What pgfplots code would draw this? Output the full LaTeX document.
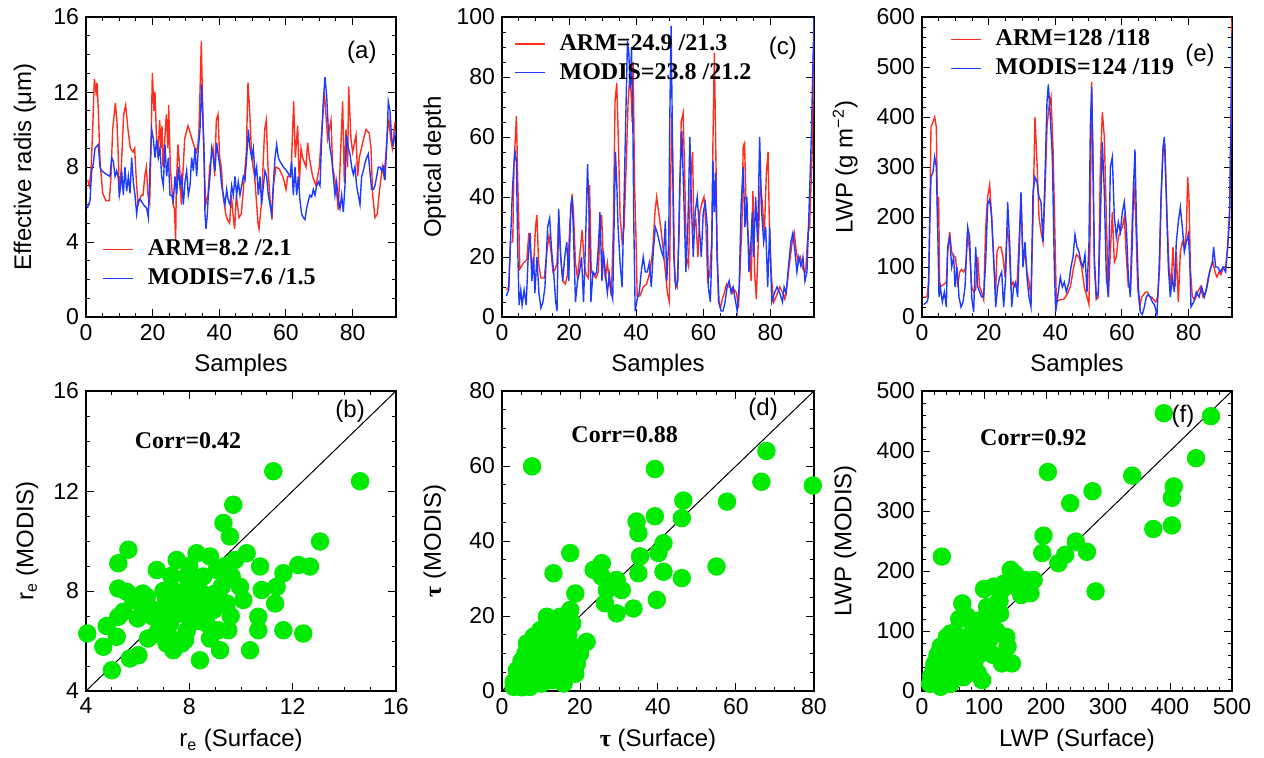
\documentclass[border=0pt]{standalone}
\usepackage{fontspec}
\setmainfont{Liberation Sans}
\newfontfamily\tnr{Liberation Serif}
\usepackage{pgfplots}
\pgfplotsset{compat=1.18}
\definecolor{armc}{RGB}{255,45,30}
\definecolor{modc}{RGB}{30,60,255}
\definecolor{grn}{RGB}{0,235,0}
\tikzset{
 plab/.style={font=\fontsize{12}{13}\selectfont, anchor=center},
 corr/.style={font=\tnr\bfseries\fontsize{12}{13}\selectfont, anchor=west},
}
\pgfplotsset{
 panel/.style={scale only axis, width=155pt, height=150pt, anchor=south west,
   tick align=inside, major tick length=4pt, minor tick length=2pt,
   axis line style={line width=0.6pt}, every tick/.style={line width=0.5pt, black},
   ticklabel style={font=\fontsize{11.5}{12}\selectfont},
   label style={font=\fontsize{12}{13}\selectfont},
   /pgf/number format/assume math mode=true,
   legend cell align=left,
   legend image code/.code={\draw[##1] (0pt,0pt) -- (15pt,0pt);},
   legend style={draw=none, fill=none, inner sep=0pt, row sep=3pt,
     font=\tnr\bfseries\fontsize{12}{13}\selectfont,
     nodes={inner xsep=7pt, inner ysep=1pt}},
 },
 ts/.style={xmin=0, xmax=93, xtick={0,20,...,80}, minor x tick num=3,
   xlabel={Samples}, xlabel style={at={(axis description cs:0.5,-0.16)}, anchor=center}},
 sc/.style={only marks, mark=*, mark size=4.4pt, mark options={fill=grn, draw=grn}},
 ar/.style={color=armc, line width=0.7pt},
 mo/.style={color=modc, line width=0.7pt},
}
\begin{document}
\begin{tikzpicture}
\path[use as bounding box] (0,0) rectangle (632pt,378.5pt);
% ---------------- (a)
\begin{axis}[panel, ts, at={(43pt,220pt)}, ymin=0, ymax=16, ytick={0,4,...,16}, minor y tick num=3,
  ylabel={Effective radis (μm)}, ylabel style={at={(axis description cs:-0.197,0.5)}, anchor=center},
  legend style={at={(rel axis cs:0.052,0.265)}, anchor=north west}]
\addplot[ar] coordinates {(0.5,7.3)(1,7.0)(1.5,7.8)(2,10)(2.5,12.7)(3,12.0)(3.3,12.5)(3.7,11)(4.2,8.3)(5,6.6)(6,6.2)(7,6.2)(7.5,7.5)(8,10)(8.8,11.4)(9.3,10.4)(9.7,8.5)(10,6.4)(10.6,8)(11.3,10.8)(11.9,11.3)(12.6,10)(13.3,9)(14.1,8.8)(14.6,9.0)(15,7.6)(15.6,6)(16.6,6.5)(17.1,6.5)(17.7,7.6)(18.1,8)(18.6,6.5)(19.1,6.1)(19.5,9)(19.9,13)(20.4,11)(20.7,12)(21.1,9.8)(21.6,8.5)(22.1,10.5)(22.5,9)(22.8,10.2)(23.1,8)(24.1,10.8)(24.6,9)(24.8,11.3)(25.3,8)(26.1,6)(26.5,5.8)(26.9,4.1)(27.1,7)(27.6,9.2)(28.1,8)(28.6,6)(29.6,9.5)(30.6,10.2)(31.3,9.8)(32.1,9.3)(33.1,8.8)(33.6,9.2)(33.9,10)(34.6,14.7)(34.9,12)(35.3,9)(35.9,6)(36.6,6.5)(37.1,8)(37.6,8.5)(38.1,9)(38.6,7.5)(39.1,10.5)(39.6,10.8)(40.1,8.5)(40.6,8)(41.1,6.5)(41.9,5.5)(42.4,5.2)(43.1,5)(43.6,6.5)(44.1,5.5)(44.6,4.7)(45.1,6.5)(45.9,5.3)(46.6,5.5)(47.3,7)(48.1,8.8)(48.6,12.5)(49.1,11)(49.6,9)(50.1,8)(50.6,7.5)(51.6,5)(51.9,4.7)(52.6,6)(53.1,8)(53.6,10)(54.1,10.5)(54.6,8)(55.3,6)(55.8,5.2)(56.2,7)(57,8)(58,7.9)(59,7.5)(59.5,7.2)(60,6.8)(60.5,7.5)(61.5,7.5)(62.3,11.5)(62.8,8.5)(63.5,10.2)(64,7)(64.5,9)(65,8.5)(66,8)(66.5,9.3)(67,8.5)(68,7.5)(69,7)(70,8)(71.5,12)(72.5,9.5)(73.5,10.5)(74,8)(75,7)(75.7,5.7)(77,11.5)(77.5,7.2)(78,10)(78.5,8)(78.8,12.3)(79.5,9.5)(80,8.8)(81,9.7)(81.5,7.5)(82,8.5)(83,9.3)(84,10)(85,9.8)(85.5,9)(86,6.5)(86.7,5.3)(87.4,5.5)(87.9,6.5)(88.9,8)(89.4,7.5)(89.9,8.5)(90.4,9.8)(90.9,10.5)(91.4,9.5)(91.9,9)(92.7,10.4)};
\addplot[mo] coordinates {(0.4,5.8)(1.2,6.2)(1.7,7.8)(2.2,8.2)(2.7,9)(3.7,9.2)(4.2,8)(4.7,7.8)(6.2,7.6)(7.2,7.5)(7.7,8.5)(8.2,8.3)(8.7,7.5)(9.2,7.8)(9.7,7.4)(10,6.5)(10.4,7)(10.7,7.8)(11.2,6.5)(11.7,8)(12.2,6.7)(12.7,7.5)(13.2,6.6)(13.7,8.5)(14.2,7.2)(14.7,6.5)(15.2,5.5)(15.7,6.2)(16.2,6.3)(17.2,6.0)(18.2,5.8)(18.7,5.3)(19.2,8)(19.7,10)(20.2,9.5)(20.7,8.5)(21.2,9.5)(21.7,8.5)(22.2,9.0)(22.7,7.5)(23.2,7.0)(23.7,9.2)(24.2,7.5)(24.7,8.5)(25.2,6.5)(25.7,6.5)(26.2,6.2)(26.7,7.5)(27.2,6.5)(27.7,8)(28.2,7)(28.7,7.5)(29.2,6)(29.7,7.2)(30.2,7.8)(30.7,6.5)(31.2,7)(31.7,8.5)(32.2,7.8)(32.7,9)(33.2,7.5)(33.7,9.0)(34.2,10)(34.7,12.4)(35,11)(35.4,9)(35.7,5.5)(36,4.7)(36.4,5.5)(36.7,6.5)(37.2,7.5)(37.7,9)(38.2,8.5)(38.7,7.8)(39.2,9.3)(39.7,8.6)(40.2,8.0)(40.7,7.0)(41.2,6.5)(41.7,6.0)(42.2,6.8)(42.7,6.2)(43.2,6)(43.7,7)(44.2,6.5)(44.7,7.5)(45.2,6.5)(45.7,7.2)(46.2,6.5)(46.7,7)(47.2,7.5)(47.7,7.3)(48.2,8.5)(48.7,10.0)(49.2,9)(49.7,8.5)(50.2,9)(50.7,7.5)(51.2,8.0)(51.7,6.5)(52.2,7.5)(52.7,6.0)(53.2,7.0)(53.7,7.8)(54.2,7.5)(54.7,6.5)(55.2,6.0)(55.7,5.5)(56.2,7)(56.7,8.5)(57.2,9.2)(57.7,8.5)(58.2,8.3)(59.2,8.0)(60.2,7.8)(61.2,7.5)(61.7,8.3)(62.2,6.5)(62.7,8.0)(63.2,6.5)(63.7,7.5)(64.2,6.2)(64.7,5.5)(65.2,5.3)(65.7,5.2)(66.2,5.8)(66.7,6.2)(67.2,6.5)(67.7,6.4)(68.2,6.8)(68.7,6.5)(69.2,7.0)(69.7,7.2)(70.2,7.0)(70.7,9.5)(71.2,11.5)(71.7,12.8)(72.2,11.8)(72.7,10.0)(73.2,9.0)(73.7,8.5)(74.2,7.5)(74.7,6.5)(75.2,7.2)(75.7,6.2)(76.2,5.8)(76.7,6.5)(77.2,5.6)(77.7,7.0)(78.2,9.7)(78.7,9.0)(79.2,8.7)(79.7,8.0)(80.2,7.6)(80.7,8.0)(81.2,7.0)(81.7,6.5)(82.2,6.0)(82.7,7.5)(83.2,7.8)(83.7,8.2)(84.2,8.5)(84.7,8.7)(85.2,7.7)(85.7,6.8)(86.2,6.8)(86.7,7.0)(87.2,7.5)(87.7,8.0)(88.2,8.0)(88.7,7.8)(89.2,8.0)(89.7,7.3)(90.2,9.0)(90.7,11.5)(91.2,11.0)(91.7,9.5)(92.2,9.2)(93,10.0)};
\legend{ARM=8.2 /2.1, MODIS=7.6 /1.5}
\node[plab] at (rel axis cs:0.89,0.883) {(a)};
\end{axis}
% ---------------- (c)
\begin{axis}[panel, ts, width=156pt, at={(251pt,220pt)}, ymin=0, ymax=100, ytick={0,20,...,100}, minor y tick num=3,
  ylabel={Optical depth}, ylabel style={at={(axis description cs:-0.216,0.5)}, anchor=center},
  legend style={at={(rel axis cs:0.038,0.95)}, anchor=north west}]
\addplot[ar] coordinates {(1.3,9)(2.0,10)(2.5,25)(3.2,25)(3.6,52)(4.0,60)(4.3,67)(4.7,45)(5.0,32)(5.3,16)(6.4,18)(7.4,19)(8.0,28)(8.6,20)(9.4,17)(10.0,30)(10.4,34)(10.9,18)(11.6,13)(12.6,13)(13.4,22)(14.0,27)(14.6,22)(15.2,15)(15.9,16)(16.4,18)(16.9,34)(17.5,20)(18.1,12)(18.9,11)(19.5,14)(20.3,32)(20.9,41)(21.3,35)(21.9,18)(22.5,13)(23.3,22)(23.9,29)(24.5,18)(25.1,14)(25.7,13)(26.1,44)(26.6,15)(27.3,14)(28.0,13)(28.7,15)(29.2,28)(29.7,34)(30.2,18)(30.8,13)(31.4,18)(32.0,12)(32.6,7)(33.2,30)(33.7,72)(34.2,78)(34.7,58)(35.2,34)(35.8,25)(36.4,30)(37.0,50)(37.6,72)(38.2,82)(38.8,65)(39.1,85)(39.5,45)(39.9,28)(40.3,7)(41.1,7)(42.1,10)(43.1,11)(44.1,15)(44.9,22)(45.6,35)(46.1,40)(46.7,35)(47.3,30)(48.1,22)(48.7,15)(49.3,8)(49.9,5)(50.2,40)(50.6,68)(51.0,45)(51.5,12)(52.2,10)(52.8,28)(53.4,65)(54.0,68)(54.5,45)(55.0,20)(55.6,17)(56.2,45)(56.8,55)(57.2,30)(57.8,32)(58.4,20)(59.0,35)(59.6,38)(60.2,40)(60.8,30)(61.3,12)(61.9,14)(62.5,25)(62.9,60)(63.3,88)(63.7,58)(64.1,25)(64.5,5)(65.1,3)(65.7,6)(66.3,8)(66.9,11)(67.5,10)(68.1,10)(68.7,8)(69.3,9)(69.9,8)(70.5,3)(71.1,20)(71.5,30)(71.9,57)(72.3,58)(72.8,35)(73.3,28)(73.8,20)(74.3,12)(74.8,42)(75.3,15)(75.8,6)(76.4,25)(77.0,45)(77.6,38)(78.2,28)(78.8,48)(79.3,55)(79.8,25)(80.4,12)(81.0,5)(81.8,7)(82.8,10)(83.7,8)(84.3,6)(84.9,10)(85.7,18)(86.5,25)(87.1,28)(87.7,22)(88.3,18)(88.9,20)(89.7,16)(90.5,15)(91.2,28)(91.7,30)(92.5,57)(93,92)};
\addplot[mo] coordinates {(1.3,7)(2.0,9)(2.5,24)(3.1,42)(3.5,50)(3.9,55)(4.3,52)(4.7,22)(5.1,4)(5.6,9)(6.0,4)(6.6,9)(7.2,4)(7.8,20)(8.4,28)(8.9,12)(9.4,20)(9.8,8)(10.4,20)(11.0,8)(11.6,3)(12.2,5)(12.8,10)(13.6,30)(14.2,33)(14.8,22)(15.4,15)(16.0,5)(16.4,2)(16.9,36)(17.5,20)(18.1,12)(18.7,20)(19.3,25)(19.9,12)(20.5,37)(20.9,40)(21.3,28)(21.9,5)(22.5,12)(23.1,15)(23.7,20)(24.3,5)(24.9,25)(25.5,51)(26.1,30)(26.5,5)(27.1,15)(27.7,14)(28.2,15)(28.8,25)(29.2,35)(29.8,12)(30.2,22)(30.8,15)(31.4,8)(32.0,14)(32.6,8)(33.0,6)(33.4,30)(33.8,55)(34.2,45)(34.6,30)(35.2,18)(35.8,10)(36.4,40)(37.0,72)(37.4,92)(37.8,88)(38.2,76)(38.6,90)(39.0,65)(39.3,30)(39.7,2)(40.3,6)(40.9,8)(41.5,15)(42.1,20)(42.7,15)(43.3,15)(43.9,18)(44.5,10)(45.1,22)(45.7,30)(46.3,28)(46.9,25)(47.5,22)(48.1,20)(48.7,32)(49.1,12)(49.7,25)(50.0,65)(50.4,97)(50.8,60)(51.2,20)(51.8,10)(52.4,12)(53.0,45)(53.6,62)(54.2,40)(54.8,15)(55.4,30)(56.0,60)(56.4,40)(57.0,20)(57.6,35)(58.2,40)(58.8,30)(59.4,20)(60.0,35)(60.6,38)(61.2,30)(61.5,10)(62.1,5)(62.5,20)(62.9,52)(63.3,35)(63.7,48)(64.1,20)(64.7,5)(65.3,2)(65.9,2)(66.5,5)(67.1,10)(67.7,12)(68.3,8)(68.9,10)(69.5,6)(70.1,2)(70.7,10)(71.3,38)(71.9,50)(72.4,30)(73.0,40)(73.6,15)(74.2,25)(74.6,35)(75.0,20)(75.6,40)(76.2,25)(76.8,60)(77.4,35)(78.0,25)(78.6,30)(79.2,10)(79.8,30)(80.4,5)(81.2,8)(82.0,10)(82.8,8)(83.6,5)(84.1,10)(84.7,8)(85.5,18)(86.1,25)(86.7,28)(87.3,22)(87.9,15)(88.5,20)(89.1,17)(89.7,20)(90.3,12)(90.9,15)(91.5,35)(92.2,60)(92.7,85)(93,100)};
\legend{ARM=24.9 /21.3, MODIS=23.8 /21.2}
\node[plab] at (rel axis cs:0.9,0.897) {(c)};
\end{axis}
% ---------------- (e)
\begin{axis}[panel, ts, at={(461pt,220pt)}, ymin=0, ymax=600, ytick={0,100,...,600}, minor y tick num=4,
  ylabel={LWP (g m\textsuperscript{−2})}, ylabel style={at={(axis description cs:-0.248,0.5)}, anchor=center},
  legend style={at={(rel axis cs:0.09,0.965)}, anchor=north west}]
\addplot[ar] coordinates {(0.5,40)(1.5,40)(2.0,72)(2.3,180)(2.7,380)(3.3,390)(3.8,400)(4.3,380)(4.7,180)(5.0,240)(5.3,60)(6.5,65)(7.3,70)(7.7,130)(8.3,170)(8.9,130)(9.5,120)(10.1,120)(10.7,60)(11.3,90)(11.9,95)(12.5,90)(13.1,100)(13.7,170)(14.3,130)(14.9,60)(15.5,50)(16.1,55)(16.7,120)(17.3,60)(17.9,50)(18.5,35)(19.1,180)(19.7,240)(20.3,265)(20.9,200)(21.5,110)(22.1,50)(22.5,130)(23.0,140)(23.7,140)(24.3,120)(24.9,80)(25.5,180)(26.1,150)(26.7,60)(27.3,70)(27.9,60)(28.5,60)(29.1,150)(29.7,240)(30.3,110)(30.9,130)(31.5,90)(32.1,70)(32.7,40)(33.3,200)(33.9,400)(34.5,310)(35.1,200)(35.7,170)(36.3,150)(36.9,250)(37.5,380)(38.1,420)(38.7,440)(39.3,340)(39.9,160)(40.3,30)(41.5,35)(42.5,35)(43.5,45)(44.5,60)(45.5,100)(46.3,125)(47.1,120)(47.9,100)(48.7,60)(49.5,40)(50.1,25)(50.5,200)(50.9,470)(51.3,320)(51.7,100)(52.3,35)(52.9,40)(53.5,300)(54.1,410)(54.7,360)(55.3,200)(55.9,40)(56.5,130)(57.1,210)(57.7,110)(58.3,120)(58.9,160)(59.5,170)(60.1,180)(60.7,200)(61.3,120)(61.9,60)(62.5,60)(63.1,200)(63.5,270)(64.1,200)(64.7,60)(65.3,20)(65.9,40)(66.5,45)(67.1,50)(67.7,50)(68.3,40)(68.9,40)(69.5,35)(70.1,30)(70.7,40)(71.3,100)(71.7,240)(72.3,330)(72.9,340)(73.5,200)(74.1,100)(74.7,60)(75.3,140)(75.9,60)(76.3,130)(76.9,30)(77.5,130)(78.1,150)(78.7,140)(79.3,170)(79.7,280)(80.1,240)(80.5,100)(81.1,40)(81.9,35)(82.7,50)(83.5,60)(84.3,40)(85.1,50)(85.9,80)(86.7,100)(87.3,110)(87.9,90)(88.5,80)(89.1,90)(89.7,85)(90.5,100)(91.1,100)(91.7,140)(92.3,220)(92.7,410)(93,600)};
\addplot[mo] coordinates {(0.5,25)(1.5,30)(1.9,40)(2.3,180)(2.7,280)(3.3,290)(3.8,320)(4.3,300)(4.7,180)(5.1,40)(5.5,60)(6.1,30)(6.7,50)(7.3,20)(7.7,140)(8.3,160)(8.9,100)(9.5,120)(9.9,60)(10.5,100)(11.1,40)(11.7,20)(12.3,30)(12.9,60)(13.7,180)(14.3,160)(14.9,40)(15.5,10)(16.1,140)(16.7,60)(17.3,50)(17.9,40)(18.5,40)(19.1,110)(19.7,225)(20.3,235)(20.9,200)(21.5,120)(22.1,20)(22.7,60)(23.3,80)(23.9,90)(24.5,20)(25.1,80)(25.7,230)(26.3,150)(26.9,20)(27.5,60)(28.1,70)(28.7,40)(29.3,160)(29.7,250)(30.3,100)(30.9,150)(31.5,80)(32.1,40)(32.7,20)(33.3,250)(33.9,280)(34.5,270)(35.1,240)(35.7,230)(36.3,150)(36.9,280)(37.5,430)(37.9,465)(38.5,400)(39.1,320)(39.7,100)(40.1,10)(40.7,40)(41.5,80)(42.1,60)(42.7,70)(43.3,50)(44.1,70)(44.7,100)(45.3,120)(45.9,165)(46.5,140)(47.1,130)(47.7,110)(48.3,100)(48.9,125)(49.5,50)(50.1,150)(50.5,380)(50.9,460)(51.3,300)(51.7,120)(52.3,40)(52.9,50)(53.5,190)(54.1,350)(54.7,250)(55.3,80)(55.9,40)(56.5,300)(57.1,320)(57.7,200)(58.3,160)(58.9,190)(59.5,170)(60.1,210)(60.7,230)(61.3,180)(61.9,80)(62.5,40)(63.1,150)(63.5,270)(63.9,335)(64.3,200)(64.9,60)(65.5,10)(66.1,5)(66.7,20)(67.3,40)(67.9,45)(68.5,40)(69.1,30)(69.7,25)(70.5,5)(71.1,90)(71.7,230)(72.3,340)(72.7,360)(73.3,240)(73.9,100)(74.5,40)(75.1,80)(75.7,50)(76.3,150)(76.9,190)(77.5,220)(78.1,180)(78.7,130)(79.3,150)(79.9,165)(80.3,120)(80.7,20)(81.5,30)(82.3,50)(83.1,40)(83.9,60)(84.7,40)(85.5,60)(86.3,90)(87.1,110)(87.5,140)(88.1,100)(88.7,100)(89.5,90)(90.3,100)(91.1,90)(91.7,140)(92.3,200)(92.7,390)(93,570)};
\legend{ARM=128 /118, MODIS=124 /119}
\node[plab] at (rel axis cs:0.897,0.873) {(e)};
\end{axis}
% ---------------- (b)
\begin{axis}[panel, at={(43pt,33pt)}, xmin=4, xmax=16, ymin=4, ymax=16, xtick={4,8,...,16}, ytick={4,8,...,16},
  minor x tick num=3, minor y tick num=3,
  xlabel={r\textsubscript{e} (Surface)}, xlabel style={at={(axis description cs:0.5,-0.164)}, anchor=center},
  ylabel={r\textsubscript{e} (MODIS)}, ylabel style={at={(axis description cs:-0.19,0.5)}, anchor=center}]
\addplot[black, line width=0.5pt] coordinates {(4,4)(16,16)};
\addplot[sc] coordinates {(5.0,4.83)(4.05,6.3)(4.67,5.77)(4.8,6.6)(5.19,6.17)(5.25,6.97)(5.45,7.17)(5.25,8.1)(5.57,7.97)(5.25,9.11)(5.64,9.65)(5.7,5.3)(6.03,5.43)(5.83,7.64)(6.22,7.24)(6.35,7.77)(6.6,6.97)(6.74,8.84)(6.86,6.7)(6.99,6.17)(7.06,7.24)(7.12,5.9)(7.38,5.63)(7.25,6.7)(7.51,9.24)(7.64,7.64)(7.83,6.03)(7.9,8.58)(7.96,6.97)(8.15,7.5)(8.28,9.51)(8.35,8.04)(8.41,5.23)(8.54,8.58)(8.67,6.7)(8.74,7.77)(8.8,9.38)(8.93,7.24)(9.06,8.84)(9.12,6.43)(9.19,5.63)(9.25,8.17)(9.32,10.72)(9.45,7.5)(9.51,6.43)(9.57,10.18)(9.64,8.58)(9.7,11.45)(9.77,9.24)(9.96,8.17)(10.09,7.64)(10.22,9.51)(10.35,5.63)(10.67,6.43)(10.67,6.97)(10.74,8.98)(10.8,8.04)(11.25,12.79)(11.32,7.5)(11.38,8.17)(11.64,8.71)(11.64,6.43)(12.22,9.04)(12.41,6.3)(12.67,8.98)(13.06,9.98)(14.61,12.39)(8.5,7.9)(7.6,7.1)(8.4,7.1)(8.8,7.4)(7.3,6.1)(6.7,7.1)(6.5,7.3)(8.3,6.8)(7.4,8.0)(7.1,7.6)(8.0,8.3)(9.0,7.9)(6.2,7.9)(7.8,7.9)(7.0,8.0)(7.5,7.6)(8.1,7.2)(8.6,7.3)(9.2,7.6)(6.8,6.4)(7.9,6.4)(8.8,6.1)(9.6,7.0)(6.0,6.9)(7.3,8.6)(8.0,9.0)(9.4,9.0)(6.4,6.1)(7.7,5.9)};
\node[plab] at (rel axis cs:0.852,0.933) {(b)};
\node[corr] at (rel axis cs:0.135,0.833) {Corr=0.42};
\end{axis}
% ---------------- (d)
\begin{axis}[panel, width=156pt, at={(251pt,33pt)}, xmin=0, xmax=80, ymin=0, ymax=80, xtick={0,20,...,80}, ytick={0,20,...,80},
  minor x tick num=3, minor y tick num=3,
  xlabel={{\tnr\bfseries τ} (Surface)}, xlabel style={at={(axis description cs:0.5,-0.164)}, anchor=center},
  ylabel={{\tnr\bfseries τ} (MODIS)}, ylabel style={at={(axis description cs:-0.216,0.5)}, anchor=center}]
\addplot[black, line width=0.5pt] coordinates {(0,0)(80,80)};
\addplot[sc] coordinates {(7.7,59.9)(39.2,59.2)(67.8,64.0)(66.5,55.8)(79.7,54.8)(57.7,50.5)(46.5,50.8)(46.1,46.1)(39.2,46.6)(34.5,45.2)(34.97,42.1)(41.4,39.4)(40.1,36.8)(35.4,35.9)(34.97,31.4)(41.4,31.8)(46.1,30.1)(55.0,33.2)(39.7,24.3)(33.7,22.0)(29.4,20.7)(26.4,23.4)(26.9,26.9)(30.7,26.9)(29.4,29.6)(25.6,34.1)(23.5,32.3)(25.6,30.5)(17.5,36.8)(13.2,31.4)(18.8,26.0)(21.7,13.1)(11.5,19.8)(17.1,20.7)(15.8,17.1)(18.8,4.6)(18.3,9.5)(6.4,12.7)(4.7,5.5)(3.0,2.4)(5.5,1.1)(7.2,7.3)(9.0,10.0)(9.8,3.7)(11.5,5.5)(13.2,8.2)(14.9,11.8)(12.4,14.5)(14.1,16.2)(16.6,5.5)(15.8,9.1)(10.7,8.2)(8.1,2.9)(4.7,2.4)(9.8,16.2)(14.1,3.7)(9.0,4.6)(6.4,8.2)(3.8,5.5)(10.7,12.7)(12.8,10.0)(17.5,21.6)(14.9,19.8)(3.0,1.1)(7.2,1.1)(10.2,2.0)(12.8,2.9)(15.8,2.0)(17.5,7.3)(8.1,14.5)(19.2,7.3)(4,4)(5,8)(6,3)(7,5)(8,9)(9,7)(10,11)(11,3)(12,6)(13,12)(14,14)(15,6)(16,13)(17,15)(18,18)(6,10)(8,6)(10,5)(12,18)(16,10)(5,1)(11,9)(13,4)(9,13)(7,11)(14,8)(16,17)(18,12)(20,10)(4,2)};
\node[plab] at (rel axis cs:0.837,0.94) {(d)};
\node[corr] at (rel axis cs:0.2,0.856) {Corr=0.88};
\end{axis}
% ---------------- (f)
\begin{axis}[panel, at={(461pt,33pt)}, xmin=0, xmax=500, ymin=0, ymax=500, xtick={0,100,...,500}, ytick={0,100,...,500},
  minor x tick num=4, minor y tick num=4,
  xlabel={LWP (Surface)}, xlabel style={at={(axis description cs:0.5,-0.164)}, anchor=center},
  ylabel={LWP (MODIS)}, ylabel style={at={(axis description cs:-0.248,0.5)}, anchor=center}]
\addplot[black, line width=0.5pt] coordinates {(0,0)(500,500)};
\addplot[sc] coordinates {(32,224)(390,463)(466,458)(442,388)(339,359)(406,341)(403,322)(373,270)(403,276)(203,365)(239,313)(275,333)(196,259)(194,230)(220,213)(231,227)(248,249)(266,232)(280,166)(143,202)(167,185)(175,163)(180,185)(116,174)(132,179)(105,140)(65,146)(73,124)(126,129)(99,96)(136,90)(138,74)(129,46)(145,46)(110,88)(94,62)(97,18)(30,74)(40,90)(56,79)(73,90)(83,107)(19,35)(13,12)(30,7)(46,12)(56,35)(40,46)(73,51)(67,23)(51,57)(24,51)(35,29)(62,68)(83,68)(46,96)(94,118)(121,146)(20,20)(25,60)(35,40)(45,70)(50,20)(55,50)(60,90)(70,70)(75,30)(80,80)(85,50)(90,110)(100,100)(105,75)(110,120)(115,60)(120,100)(125,150)(130,170)(150,175)(160,160)(150,195)(100,170)(60,120)(40,80)(30,60)(20,45)(15,25)(65,40)(90,30)};
\node[plab] at (rel axis cs:0.842,0.916) {(f)};
\node[corr] at (rel axis cs:0.165,0.846) {Corr=0.92};
\end{axis}
\end{tikzpicture}
\end{document}
